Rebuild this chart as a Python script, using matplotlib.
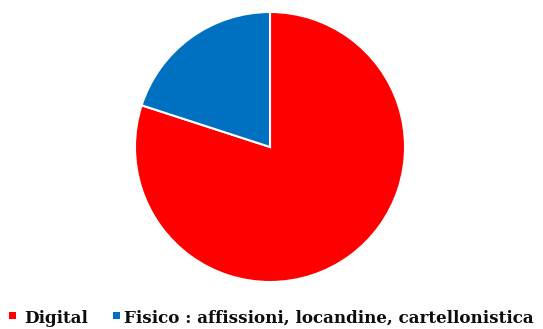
import matplotlib.pyplot as plt
from matplotlib.patches import Rectangle

# === Data ===
labels = ['Digital', 'Fisico : affissioni, locandine, cartellonistica']
shares = [80, 20]
colors = ['#FF0000', '#0070C0']

# === Plotting ===
W, H = 543, 329
fig = plt.figure(figsize=(W / 100, H / 100), dpi=100)
ax = fig.add_axes([0.0, 0.0, 1.0, 1.0])
ax.pie(shares, colors=colors, startangle=90, counterclock=False,
       radius=1.0, center=(0, 0),
       wedgeprops={'edgecolor': 'white', 'linewidth': 1.5})
ax.set_aspect('equal')
# pie center at (270, 147) px from top-left, radius 135 px
r = 135.0
cx, cy = 270.0, 147.0
ax.set_xlim(-cx / r, (W - cx) / r)
ax.set_ylim(-(H - cy) / r, cy / r)
ax.axis('off')

# === Legend along the bottom (pixel positions) ===
square_x = [9, 113]
text_x = [24, 124]
for lbl, col, sx, tx in zip(labels, colors, square_x, text_x):
    fig.patches.append(Rectangle((sx / W, 10 / H), 7 / W, 7.5 / H,
                                 transform=fig.transFigure,
                                 facecolor=col, edgecolor='none'))
    fig.text(tx / W, 6 / H, lbl, ha='left', va='baseline',
             family='DejaVu Serif', weight='bold', fontsize=12.1,
             color='#0d0d0d')

plt.savefig('out.png', dpi=100)
